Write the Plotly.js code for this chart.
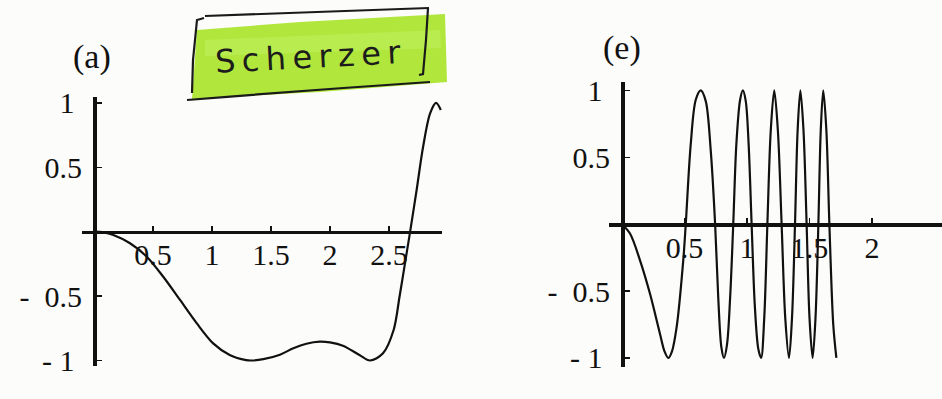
<!DOCTYPE html>
<html>
<head>
<meta charset="utf-8">
<script src="https://cdn.plot.ly/plotly-3.0.1.min.js"></script>
<style>
  html, body { margin: 0; padding: 0; background: #fcfcfa; }
  #chart { width: 942px; height: 399px; }
</style>
</head>
<body>
<div id="chart"></div>
<script>
// Panel (a): contrast transfer at Scherzer defocus
const aX = [0, 0.08, 0.164, 0.305, 0.447, 0.587, 0.729, 0.87, 1.01, 1.15, 1.29, 1.336, 1.435,
            1.576, 1.69, 1.80, 1.915, 2.0, 2.11, 2.25, 2.34, 2.45, 2.54, 2.59, 2.65, 2.68,
            2.735, 2.79, 2.85, 2.90, 2.94];
const aY = [0, -0.005, -0.026, -0.09, -0.194, -0.35, -0.53, -0.71, -0.867, -0.957, -0.997, -1.0, -0.99,
            -0.955, -0.905, -0.87, -0.854, -0.86, -0.885, -0.957, -1.0, -0.944, -0.763, -0.505, -0.168, 0.0,
            0.324, 0.66, 0.92, 1.0, 0.945];

// Panel (e): rapidly oscillating transfer function
const eX = [0, 0.064, 0.144, 0.224, 0.304, 0.34, 0.37, 0.40, 0.437, 0.49, 0.51,
            0.55, 0.59, 0.63, 0.67, 0.71, 0.745,
            0.77, 0.795, 0.816, 0.84, 0.865, 0.89,
            0.915, 0.945, 0.967, 0.99, 1.013, 1.037,
            1.062, 1.09, 1.113, 1.138, 1.163,
            1.19, 1.218, 1.247, 1.277,
            1.306, 1.336, 1.36, 1.384,
            1.405, 1.427, 1.452, 1.477,
            1.50, 1.525, 1.548, 1.571,
            1.59, 1.61, 1.635, 1.659,
            1.69, 1.715];
const eY = [0, -0.07, -0.27, -0.52, -0.82, -0.95, -1.0, -0.95, -0.77, -0.27, 0,
            0.6, 0.93, 1.0, 0.92, 0.55, 0,
            -0.55, -0.92, -1.0, -0.9, -0.55, 0,
            0.6, 0.93, 1.0, 0.92, 0.6, 0,
            -0.6, -0.93, -1.0, -0.7, 0,
            0.7, 1.0, 0.7, 0,
            -0.7, -1.0, -0.7, 0,
            0.7, 1.0, 0.7, 0,
            -0.7, -1.0, -0.7, 0,
            0.7, 1.0, 0.7, 0,
            -0.75, -1.0];

// Tick values and labels
const aTickVals = [0.5, 1, 1.5, 2, 2.5, 3];
const aTickText = ['0.5', '1', '1.5', '2', '2.5', '3'];
const eTickVals = [0.5, 1, 1.5, 2];
const eTickText = ['0.5', '1', '1.5', '2'];
const yTickVals = [-1, -0.5, 0.5, 1];
const yTickText = ['-\u00a01\u2008', '-\u00a0\u00a00.5', '0.5', '1\u2008'];

const W = 942, H = 399;
const px = v => v / W;
const py = v => 1 - v / H;

// Frames of the two panels
const A = { xd: [0.0873, 0.4692], yd: [0.0817, 0.7569], xr: [-0.1, 2.95], yr: [-1.046, 1.046] };
const E = { xd: [0.6465, 1.0], yd: [0.081, 0.7952], xr: [-0.104, 2.56], yr: [-1.065, 1.065] };

// Paper position where the value 0 falls on a given axis
const zeroAt = (dom, rng) => dom[0] + (0 - rng[0]) / (rng[1] - rng[0]) * (dom[1] - dom[0]);

const tickFont = { family: 'Liberation Serif, Times New Roman, serif', size: 30, color: '#111' };

function xAxis(P, vals, text) {
  return {
    domain: P.xd, range: P.xr, anchor: 'free', position: zeroAt(P.yd, P.yr),
    showline: true, linewidth: 3.5, linecolor: '#111',
    showgrid: false, zeroline: false,
    ticks: 'inside', ticklen: 5, tickwidth: 1.5, tickcolor: '#111',
    tickmode: 'array', tickvals: vals, ticktext: text,
    tickfont: tickFont, ticklabelstandoff: -5
  };
}
function yAxis(P) {
  return {
    domain: P.yd, range: P.yr, anchor: 'free', position: zeroAt(P.xd, P.xr),
    showline: true, linewidth: 3.5, linecolor: '#111',
    showgrid: false, zeroline: false,
    ticks: 'inside', ticklen: 5, tickwidth: 1.5, tickcolor: '#111',
    tickmode: 'array', tickvals: yTickVals, ticktext: yTickText,
    tickfont: tickFont, ticklabelstandoff: 5
  };
}

const line = { color: '#111', width: 2.2, shape: 'spline', smoothing: 0.9 };

const traces = [
  { x: aX, y: aY, xaxis: 'x', yaxis: 'y', mode: 'lines', line: line, hoverinfo: 'skip' },
  { x: eX, y: eY, xaxis: 'x2', yaxis: 'y2', mode: 'lines', line: line, hoverinfo: 'skip' }
];

// Highlighter band and pen-drawn frame around the handwritten note
const path = pts => 'M ' + pts.map(p => px(p[0]) + ',' + py(p[1])).join(' L ');
const curve = pts => 'M ' + px(pts[0][0]) + ',' + py(pts[0][1]) + ' Q ' +
  px(pts[1][0]) + ',' + py(pts[1][1]) + ' ' + px(pts[2][0]) + ',' + py(pts[2][1]);

const shapes = [
  { type: 'path', xref: 'paper', yref: 'paper', layer: 'below',
    path: path([[197, 30], [300, 22], [445, 14], [447, 82], [320, 92], [192, 99]]) + ' Z',
    fillcolor: 'rgba(168,228,40,0.9)', line: { width: 0 } },
  { type: 'path', xref: 'paper', yref: 'paper', layer: 'below',
    path: path([[205, 40], [440, 30], [441, 48], [205, 56]]) + ' Z',
    fillcolor: 'rgba(190,240,90,0.6)', line: { width: 0 } },
  { type: 'path', xref: 'paper', yref: 'paper',
    path: curve([[205, 16], [320, 12], [429, 8]]), line: { color: '#1a1a1a', width: 2.2 } },
  { type: 'path', xref: 'paper', yref: 'paper',
    path: path([[204, 18], [197, 20], [193, 60], [192, 93]]), line: { color: '#1a1a1a', width: 2.2 } },
  { type: 'path', xref: 'paper', yref: 'paper',
    path: path([[428, 8], [426, 40], [423, 74], [419, 75]]), line: { color: '#1a1a1a', width: 2.2 } },
  { type: 'path', xref: 'paper', yref: 'paper',
    path: curve([[187, 100], [310, 90], [430, 82]]), line: { color: '#1a1a1a', width: 2.2 } }
];

const serif = { family: 'Liberation Serif, serif', size: 34, color: '#111' };
const annotations = [
  { text: '(a)', xref: 'paper', yref: 'paper', x: px(92), y: py(57),
    xanchor: 'center', yanchor: 'middle', showarrow: false, font: serif },
  { text: '(e)', xref: 'paper', yref: 'paper', x: px(622), y: py(48),
    xanchor: 'center', yanchor: 'middle', showarrow: false, font: serif },
  { text: 'S\u2009c\u2009h\u2009e\u2009r\u2009z\u2009e\u2009r', xref: 'paper', yref: 'paper',
    x: px(308), y: py(57), xanchor: 'center', yanchor: 'middle', showarrow: false, textangle: -3,
    font: { family: 'DejaVu Sans, sans-serif', size: 32, color: '#1c1c1c' } }
];

const layout = {
  width: W, height: H,
  margin: { l: 0, r: 0, t: 0, b: 0 },
  paper_bgcolor: '#fcfcfa', plot_bgcolor: 'rgba(0,0,0,0)',
  showlegend: false,
  xaxis: xAxis(A, aTickVals, aTickText),
  yaxis: yAxis(A),
  xaxis2: xAxis(E, eTickVals, eTickText),
  yaxis2: yAxis(E),
  shapes: shapes,
  annotations: annotations
};

Plotly.newPlot('chart', traces, layout, { staticPlot: true, displayModeBar: false });
</script>
</body>
</html>
